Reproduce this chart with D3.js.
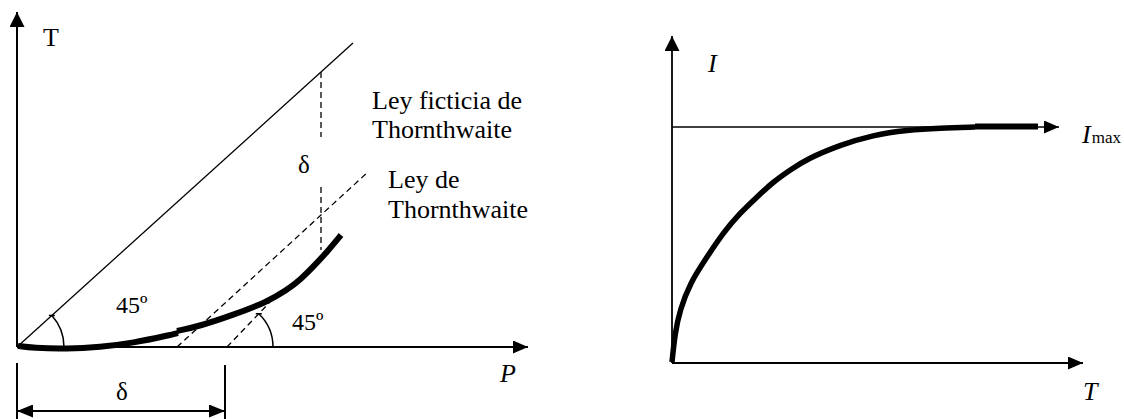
<!DOCTYPE html>
<html>
<head>
<meta charset="utf-8">
<script src="https://cdn.jsdelivr.net/npm/d3@7/dist/d3.min.js"></script>
<style>
  body { margin: 0; background: #fff; }
</style>
</head>
<body>
<div id="grafico"></div>
<script>
//----------------------------------------------------------------
// datos del diagrama izquierdo (unidades del dibujo, origen en 0,0)
//----------------------------------------------------------------
var ejeP = [0, 511];
var ejeT = [0, 335];
var leyFicticia = [[0, 0], [336, 304]];
var leyThornthwaite = [[160, 0], [351, 175]];
var paralela45 = [[210, 0], [253, 45]];
var deltaArriba = [[304, 275], [304, 210]];
var deltaAbajo = [[304, 160], [304, 97]];
var curvaTramo1 = [[1, 1], [16, -1], [50, -2], [83, 0], [116, 4], [153, 12], [161, 14]];
var curvaTramo2 = [[160, 16], [183, 21], [216, 32], [250, 45], [270, 57], [283, 67],
                   [296, 80], [310, 95], [324, 112]];
var cotaDelta = [0, 208];
var textosIzq = ["T", "Ley ficticia de", "Thornthwaite", "Ley de", "Thornthwaite",
                 "δ", "45º", "45º", "δ", "P"];

//----------------------------------------------------------------
// datos del diagrama derecho
//----------------------------------------------------------------
var ejeTder = [0, 411];
var ejeI = [0, 327];
var nivelImax = 236;
var finImax = 387;
var curvaI = [[0, 1], [3, 30], [8, 53], [18, 80], [35, 106], [51, 130], [68, 150],
              [85, 166], [101, 181], [118, 193], [135, 204], [168, 218], [201, 228],
              [235, 233], [268, 235], [303, 236]];
var tramoPlano = [[303, 236.5], [366, 236.5]];
var textosDer = ["I", "T", "I", "max"];

// dimensions
var width = 1124, height = 419;
var fuente = "Liberation Serif";

var svg = d3.select("#grafico").append("svg")
    .attr("width", width)
    .attr("height", height)
    .attr("font-family", fuente);

svg.append("rect").attr("width", width).attr("height", height).attr("fill", "#fff");

var defs = svg.append("defs");

//----------------------------------------------------------------
// puntas de flecha
//----------------------------------------------------------------
function flecha(id, largo, medio) {
    defs.append("marker")
        .attr("id", id)
        .attr("markerUnits", "userSpaceOnUse")
        .attr("markerWidth", largo)
        .attr("markerHeight", 2 * medio)
        .attr("viewBox", "0 " + (-medio) + " " + largo + " " + (2 * medio))
        .attr("refX", largo)
        .attr("refY", 0)
        .attr("orient", "auto-start-reverse")
        .append("path")
        .attr("d", "M0," + (-medio) + "L" + largo + ",0L0," + medio + "Z")
        .attr("fill", "#000");
}
flecha("fEje", 15, 7.5);
flecha("fEjeX", 15, 6.5);
flecha("fCota", 16, 6.5);
flecha("fImax", 15, 6.5);

//----------------------------------------------------------------
// diagrama izquierdo
//----------------------------------------------------------------
var xI = d3.scaleLinear().domain(ejeP).range([17, 528]);
var yI = d3.scaleLinear().domain(ejeT).range([347, 12]);
var lineaI = d3.line().x(function(d) { return xI(d[0]); }).y(function(d) { return yI(d[1]); });
var izq = svg.append("g");

// ejes
izq.append("path").datum([[0, 0], [0, ejeT[1]]])
    .attr("d", lineaI).attr("stroke", "#000").attr("stroke-width", 2)
    .attr("marker-end", "url(#fEje)");
izq.append("path").datum([[0, 0], [ejeP[1], 0]])
    .attr("d", lineaI).attr("stroke", "#000").attr("stroke-width", 2)
    .attr("marker-end", "url(#fEjeX)");

// ley ficticia (continua)
izq.append("path").datum(leyFicticia)
    .attr("d", lineaI).attr("stroke", "#000").attr("stroke-width", 1.3).attr("fill", "none");

// lineas discontinuas
[leyThornthwaite, paralela45, deltaArriba, deltaAbajo].forEach(function(l) {
    izq.append("path").datum(l)
        .attr("d", lineaI).attr("stroke", "#000").attr("stroke-width", 1.3)
        .attr("stroke-dasharray", "6,4").attr("fill", "none");
});

// curva gruesa
var lineaCurva = d3.line().curve(d3.curveBasis)
    .x(function(d) { return xI(d[0]); }).y(function(d) { return yI(d[1]); });
[curvaTramo1, curvaTramo2].forEach(function(c) {
    izq.append("path").datum(c)
        .attr("d", lineaCurva).attr("stroke", "#000").attr("stroke-width", 6)
        .attr("fill", "none");
});

// arcos de 45º
function arco(linea, radio) {
    var cx = xI(linea[0][0]), cy = yI(linea[0][1]);
    var ang = Math.atan2(yI(linea[0][1]) - yI(linea[1][1]), xI(linea[1][0]) - xI(linea[0][0]));
    var p = d3.path();
    p.moveTo(cx + radio, cy);
    p.arc(cx, cy, radio, 0, -ang, true);
    izq.append("path").attr("d", p.toString())
        .attr("stroke", "#000").attr("stroke-width", 1.5).attr("fill", "none");
    var ex = cx + radio * Math.cos(ang), ey = cy - radio * Math.sin(ang);
    izq.append("line")
        .attr("x1", ex - 3).attr("y1", ey).attr("x2", ex + 3).attr("y2", ey)
        .attr("stroke", "#000").attr("stroke-width", 1.5);
}
arco(leyFicticia, 47);
arco(paralela45, 46);

// cota delta
izq.append("path").datum([[cotaDelta[0], -16], [cotaDelta[0], -75]])
    .attr("d", lineaI).attr("stroke", "#000").attr("stroke-width", 2);
izq.append("path").datum([[cotaDelta[1], -18], [cotaDelta[1], -75]])
    .attr("d", lineaI).attr("stroke", "#000").attr("stroke-width", 2);
izq.append("path").datum([[cotaDelta[0], -64], [cotaDelta[1], -64]])
    .attr("d", lineaI).attr("stroke", "#000").attr("stroke-width", 2)
    .attr("marker-start", "url(#fCota)").attr("marker-end", "url(#fCota)");

// textos (directo sobre el svg)
var posIzq = [[26, 301, 26], [355, 238, 26], [355, 209, 26],
              [371, 159, 26], [371, 129, 26], [281, 174, 25],
              [99, 34, 24], [275, 17, 24], [99, -53, 25],
              [483, -35, 26, "italic"]];
textosIzq.forEach(function(t, i) {
    var p = posIzq[i];
    var txt = svg.append("text")
        .attr("x", xI(p[0])).attr("y", yI(p[1]))
        .attr("font-family", fuente)
        .style("font-size", p[2] + "px")
        .text(t);
    if (p[3]) txt.style("font-style", p[3]);
});

//----------------------------------------------------------------
// diagrama derecho
//----------------------------------------------------------------
var xD = d3.scaleLinear().domain(ejeTder).range([672, 1083]);
var yD = d3.scaleLinear().domain(ejeI).range([363, 36]);
var lineaD = d3.line().x(function(d) { return xD(d[0]); }).y(function(d) { return yD(d[1]); });
var der = svg.append("g");

der.append("path").datum([[0, 0], [0, ejeI[1]]])
    .attr("d", lineaD).attr("stroke", "#000").attr("stroke-width", 1.8)
    .attr("marker-end", "url(#fEje)");
der.append("path").datum([[0, 0], [ejeTder[1], 0]])
    .attr("d", lineaD).attr("stroke", "#000").attr("stroke-width", 1.8)
    .attr("marker-end", "url(#fEjeX)");
der.append("path").datum([[0, nivelImax], [finImax, nivelImax]])
    .attr("d", lineaD).attr("stroke", "#000").attr("stroke-width", 1.3)
    .attr("marker-end", "url(#fImax)");

var lineaCurvaD = d3.line().curve(d3.curveBasis)
    .x(function(d) { return xD(d[0]); }).y(function(d) { return yD(d[1]); });
der.append("path").datum(curvaI)
    .attr("d", lineaCurvaD).attr("stroke", "#000").attr("stroke-width", 5.5)
    .attr("fill", "none");
der.append("path").datum(tramoPlano)
    .attr("d", lineaD).attr("stroke", "#000").attr("stroke-width", 6)
    .attr("fill", "none");

// textos
svg.append("text").attr("x", xD(36)).attr("y", yD(291)).attr("font-family", fuente)
    .style("font-size", "26px").style("font-style", "italic").text(textosDer[0]);
svg.append("text").attr("x", xD(411)).attr("y", yD(-37)).attr("font-family", fuente)
    .style("font-size", "26px").style("font-style", "italic").text(textosDer[1]);
var imax = svg.append("text").attr("x", xD(410)).attr("y", yD(220)).attr("font-family", fuente);
imax.append("tspan").style("font-size", "26px").style("font-style", "italic").text(textosDer[2]);
imax.append("tspan").style("font-size", "17px").attr("dx", 1).text(textosDer[3]);
</script>
</body>
</html>
